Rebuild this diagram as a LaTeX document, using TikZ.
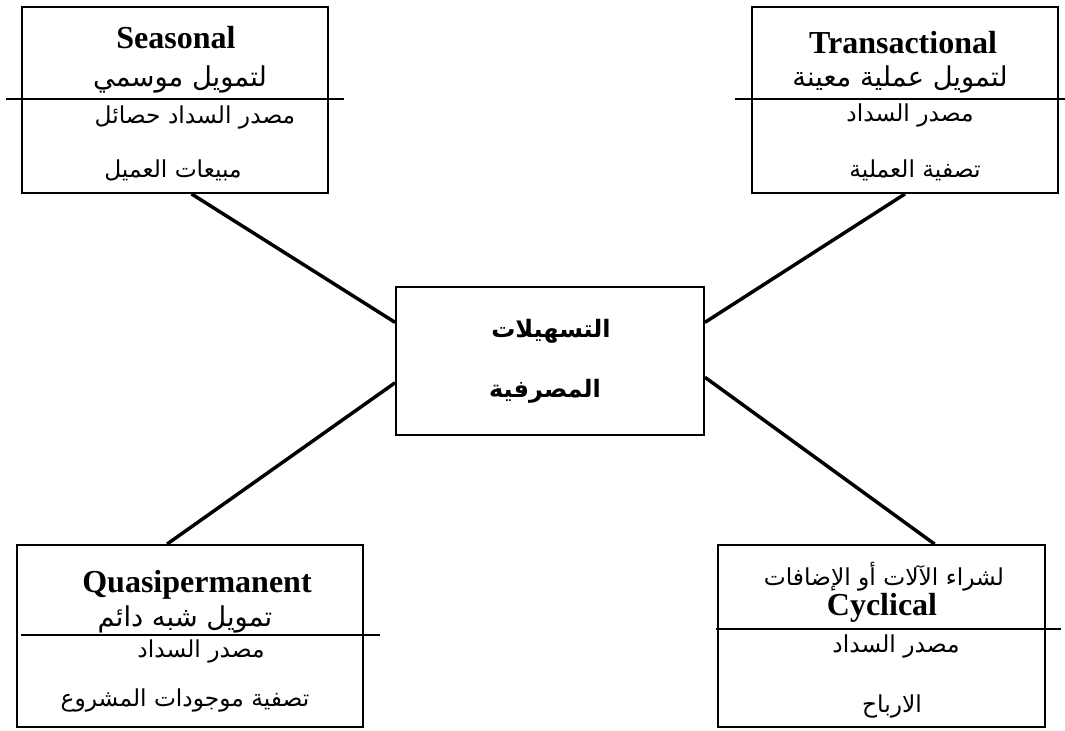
\documentclass[tikz,border=0pt]{standalone}
\usepackage{fontspec}
\setmainfont{Liberation Serif}
\newfontfamily\arabicfont[Script=Arabic]{DejaVu Sans}
\TeXXeTstate=1
\newcommand{\ar}[1]{{\arabicfont\beginR #1\endR}}
\newcommand{\kind}[1]{{\fontsize{24}{28}\selectfont\bfseries #1}}
\newcommand{\arbig}[1]{{\fontsize{20.5}{24}\selectfont\ar{#1}}}
\newcommand{\arsmall}[1]{{\fontsize{17.5}{21}\selectfont\ar{#1}}}

\begin{document}
\begin{tikzpicture}[x=0.75pt,y=-0.75pt]
		\useasboundingbox (0,0) rectangle (1065,731);
		\node[draw, line width=1.4pt, minimum width=229.5pt, minimum height=139.5pt] at (175,100)(seas){};
		\node[draw, line width=1.4pt, minimum width=229.5pt, minimum height=139.5pt] at (905,100)(trans){};
		\node[draw, line width=1.4pt, minimum width=231pt, minimum height=111pt] at (550,361)(fac){};
		\node[draw, line width=1.4pt, minimum width=259.5pt, minimum height=136.5pt] at (190,636)(quasi){};
		\node[draw, line width=1.4pt, minimum width=245.25pt, minimum height=136.5pt] at (881.5,636)(cycl){};

		\node at (176,38)(seas1){\kind{Seasonal}};
		\node at (180,79)(seas2){\arbig{لتمويل موسمي}};
		\node at (195,117)(seas3){\arsmall{مصدر السداد حصائل}};
		\node at (173,170)(seas4){\arsmall{مبيعات العميل}};
		\draw[line width=1.4pt] (6,99) -- (344,99);

		\node at (903,43)(trans1){\kind{Transactional}};
		\node at (900,79)(trans2){\arbig{لتمويل عملية معينة}};
		\node at (910,115)(trans3){\arsmall{مصدر السداد}};
		\node at (915,170)(trans4){\arsmall{تصفية العملية}};
		\draw[line width=1.4pt] (735,99) -- (1065,99);

		\node at (551,331)(fac1){{\fontsize{18}{21}\selectfont\bfseries\ar{التسهيلات}}};
		\node at (545,391)(fac2){{\fontsize{18}{21}\selectfont\bfseries\ar{المصرفية}}};

		\node at (197,585)(quasi1){\kind{Quasipermanent}};
		\node at (185,619)(quasi2){\arbig{تمويل شبه دائم}};
		\node at (201,651)(quasi3){\arsmall{مصدر السداد}};
		\node at (185,700)(quasi4){\arsmall{تصفية موجودات المشروع}};
		\draw[line width=1.4pt] (21,635) -- (380,635);

		\node at (884,577)(cycl1){\arsmall{لشراء الآلات أو الإضافات}};
		\node at (882,608)(cycl2){\kind{Cyclical}};
		\node at (896,646)(cycl3){\arsmall{مصدر السداد}};
		\node at (892,706)(cycl4){\arsmall{الارباح}};
		\draw[line width=1.4pt] (716,629) -- (1061,629);

		\draw[line width=2.6pt] (seas.-80) -- (fac.166);
		\draw[line width=2.6pt] (trans.south) -- (fac.14);
		\draw[line width=2.6pt] (quasi.104) -- (fac.-172);
		\draw[line width=2.6pt] (cycl.60.5) -- (fac.-6);
	\end{tikzpicture}
\end{document}
